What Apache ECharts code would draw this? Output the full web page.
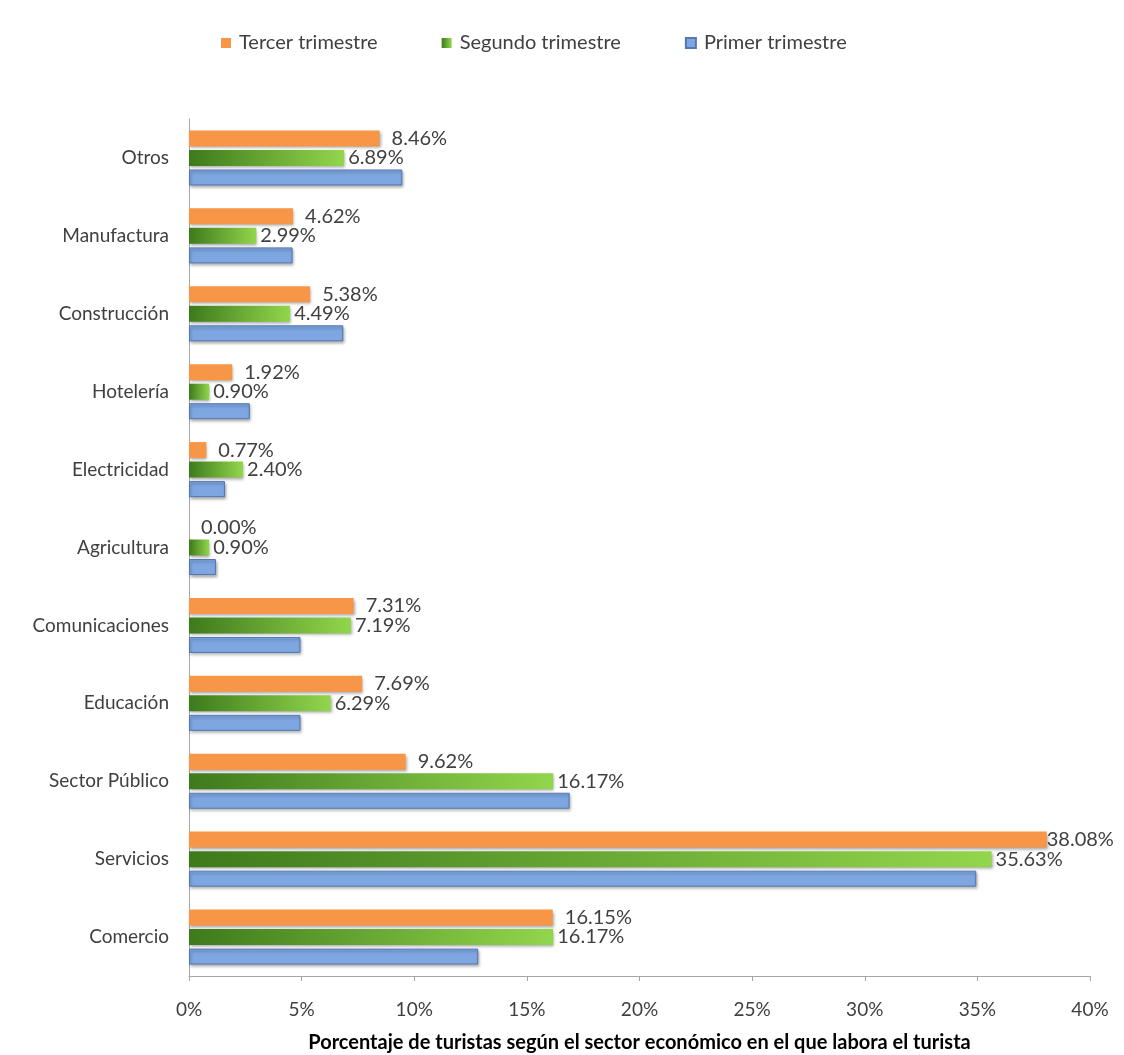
<!DOCTYPE html>
<html>
<head>
<meta charset="utf-8">
<script src="https://cdn.jsdelivr.net/npm/echarts@6/dist/echarts.min.js"></script>
<style>
  html, body { margin: 0; padding: 0; background: #fff; }
  #chart { width: 1124px; height: 1055px; }
</style>
</head>
<body>
<div id="chart"></div>
<script>
// categorias de abajo hacia arriba (eje Y categorico)
var sectores = ['Comercio', 'Servicios', 'Sector Público', 'Educación', 'Comunicaciones',
  'Agricultura', 'Electricidad', 'Hotelería', 'Construcción', 'Manufactura', 'Otros'];

var tercer = [16.15, 38.08, 9.62, 7.69, 7.31, 0.00, 0.77, 1.92, 5.38, 4.62, 8.46];
var segundo = [16.17, 35.63, 16.17, 6.29, 7.19, 0.90, 2.40, 0.90, 4.49, 2.99, 6.89];
var primer = [12.84, 34.95, 16.9, 4.95, 4.95, 1.2, 1.6, 2.7, 6.85, 4.6, 9.47];

var xTicks = [0, 5, 10, 15, 20, 25, 30, 35, 40];

var fuente = 'Lato, "Open Sans", sans-serif';
var sombra = { shadowBlur: 3, shadowColor: 'rgba(0,0,0,0.35)', shadowOffsetX: 1, shadowOffsetY: 2 };

function etiqueta(dist) {
  return {
    show: true,
    position: 'right',
    distance: dist,
    color: '#404040',
    fontSize: 20,
    fontFamily: fuente,
    formatter: function (p) { return p.value.toFixed(2) + '%'; }
  };
}

// la etiqueta de la barra mas larga queda pegada al final (como en el original)
var tercerData = tercer.map(function (v) {
  return v > 30 ? { value: v, label: { distance: 0 } } : v;
});

var chart = echarts.init(document.getElementById('chart'));

chart.setOption({
  animation: false,
  textStyle: { fontFamily: fuente },
  legend: {
    top: 28,
    left: 216,
    itemWidth: 10,
    itemHeight: 10,
    itemGap: 64,
    icon: 'rect',
    textStyle: { fontSize: 20, color: '#404040', fontFamily: fuente, padding: [0, 0, 0, 3] },
    data: ['Tercer trimestre', 'Segundo trimestre', 'Primer trimestre']
  },
  grid: { left: 189, right: 34, top: 119, bottom: 79, outerBoundsMode: 'none', containLabel: false },
  xAxis: {
    type: 'value',
    min: xTicks[0],
    max: xTicks[xTicks.length - 1],
    interval: 5,
    name: 'Porcentaje de turistas según el sector económico en el que labora el turista',
    nameLocation: 'middle',
    nameGap: 57,
    nameTextStyle: { fontSize: 20, fontWeight: 'bold', color: '#000', fontFamily: fuente },
    axisLine: { show: true, lineStyle: { color: '#a6a6a6' } },
    axisTick: { show: true, length: 5, lineStyle: { color: '#a6a6a6' } },
    axisLabel: { fontSize: 19, color: '#404040', margin: 24, formatter: '{value}%' },
    splitLine: { show: false }
  },
  yAxis: {
    type: 'category',
    data: sectores,
    axisLine: { show: true, lineStyle: { color: '#a6a6a6' } },
    axisTick: { show: false },
    axisLabel: { fontSize: 19, color: '#404040', margin: 20 }
  },
  series: [
    {
      name: 'Tercer trimestre',
      type: 'bar',
      data: tercerData,
      barWidth: 16,
      barGap: '22%',
      itemStyle: Object.assign({ color: '#f79646' }, sombra),
      label: etiqueta(12)
    },
    {
      name: 'Segundo trimestre',
      type: 'bar',
      data: segundo,
      barWidth: 16,
      barGap: '22%',
      itemStyle: Object.assign({
        color: new echarts.graphic.LinearGradient(0, 0, 1, 0, [
          { offset: 0, color: '#3d7a1c' },
          { offset: 1, color: '#92d64c' }
        ])
      }, sombra),
      label: etiqueta(4)
    },
    {
      name: 'Primer trimestre',
      type: 'bar',
      data: primer,
      barWidth: 16,
      barGap: '22%',
      itemStyle: Object.assign({ color: '#7ea7e2', borderColor: '#5478b4', borderWidth: 1 }, sombra),
      label: { show: false }
    }
  ]
});
</script>
</body>
</html>
